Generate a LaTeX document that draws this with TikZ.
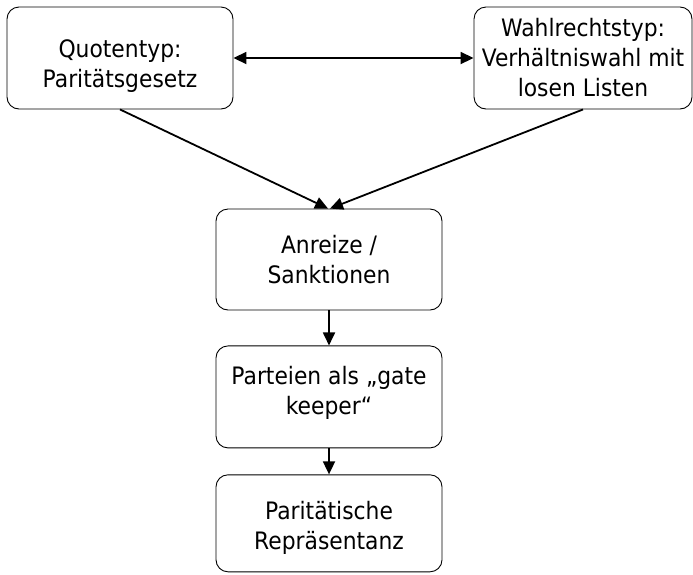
\documentclass[tikz,border=0pt]{standalone}
\usepackage{fontspec}
\setmainfont{DejaVu Sans}[FakeStretch=0.91]
\usetikzlibrary{arrows.meta,positioning}

\begin{document}
\begin{tikzpicture}[
  x=1pt,y=-1pt,
  every node/.style={font=\fontsize{24}{30}\selectfont,align=center},
  box/.style={draw,rounded corners=12pt,line width=0.9pt,minimum width=226pt,minimum height=102pt,inner sep=2pt},
  arr/.style={-{Triangle[length=13pt,width=12pt]},line width=1.8pt},
  dblarr/.style={{Triangle[length=13pt,width=12pt]}-{Triangle[length=13pt,width=12pt]},line width=1.8pt}
]
\useasboundingbox (0,0) rectangle (693,574);
\node[box,text height=64pt] (quote) at (120,58) {Quotentyp:\\Paritätsgesetz};
\node[box,minimum width=218pt] (wahl) at (583,58) {Wahlrechtstyp:\\Verhältniswahl mit\\losen Listen};
\node[box,minimum height=101pt] (anreiz) at (329,259.5) {Anreize /\\Sanktionen};
\node[box,text height=40pt,below=35pt of anreiz] (partei) {Parteien als „gate\\keeper“};
\node[box,text height=58pt,minimum height=97pt,below=26pt of partei] (repr) {Paritätische\\Repräsentanz};
\draw[dblarr] (quote)--(wahl);
\draw[arr] (quote.south)--([xshift=-1pt]anreiz.north);
\draw[arr] (wahl.south)--([xshift=1pt]anreiz.north);
\draw[arr] (anreiz)--(partei);
\draw[arr] (partei)--(repr);
\end{tikzpicture}
\end{document}
